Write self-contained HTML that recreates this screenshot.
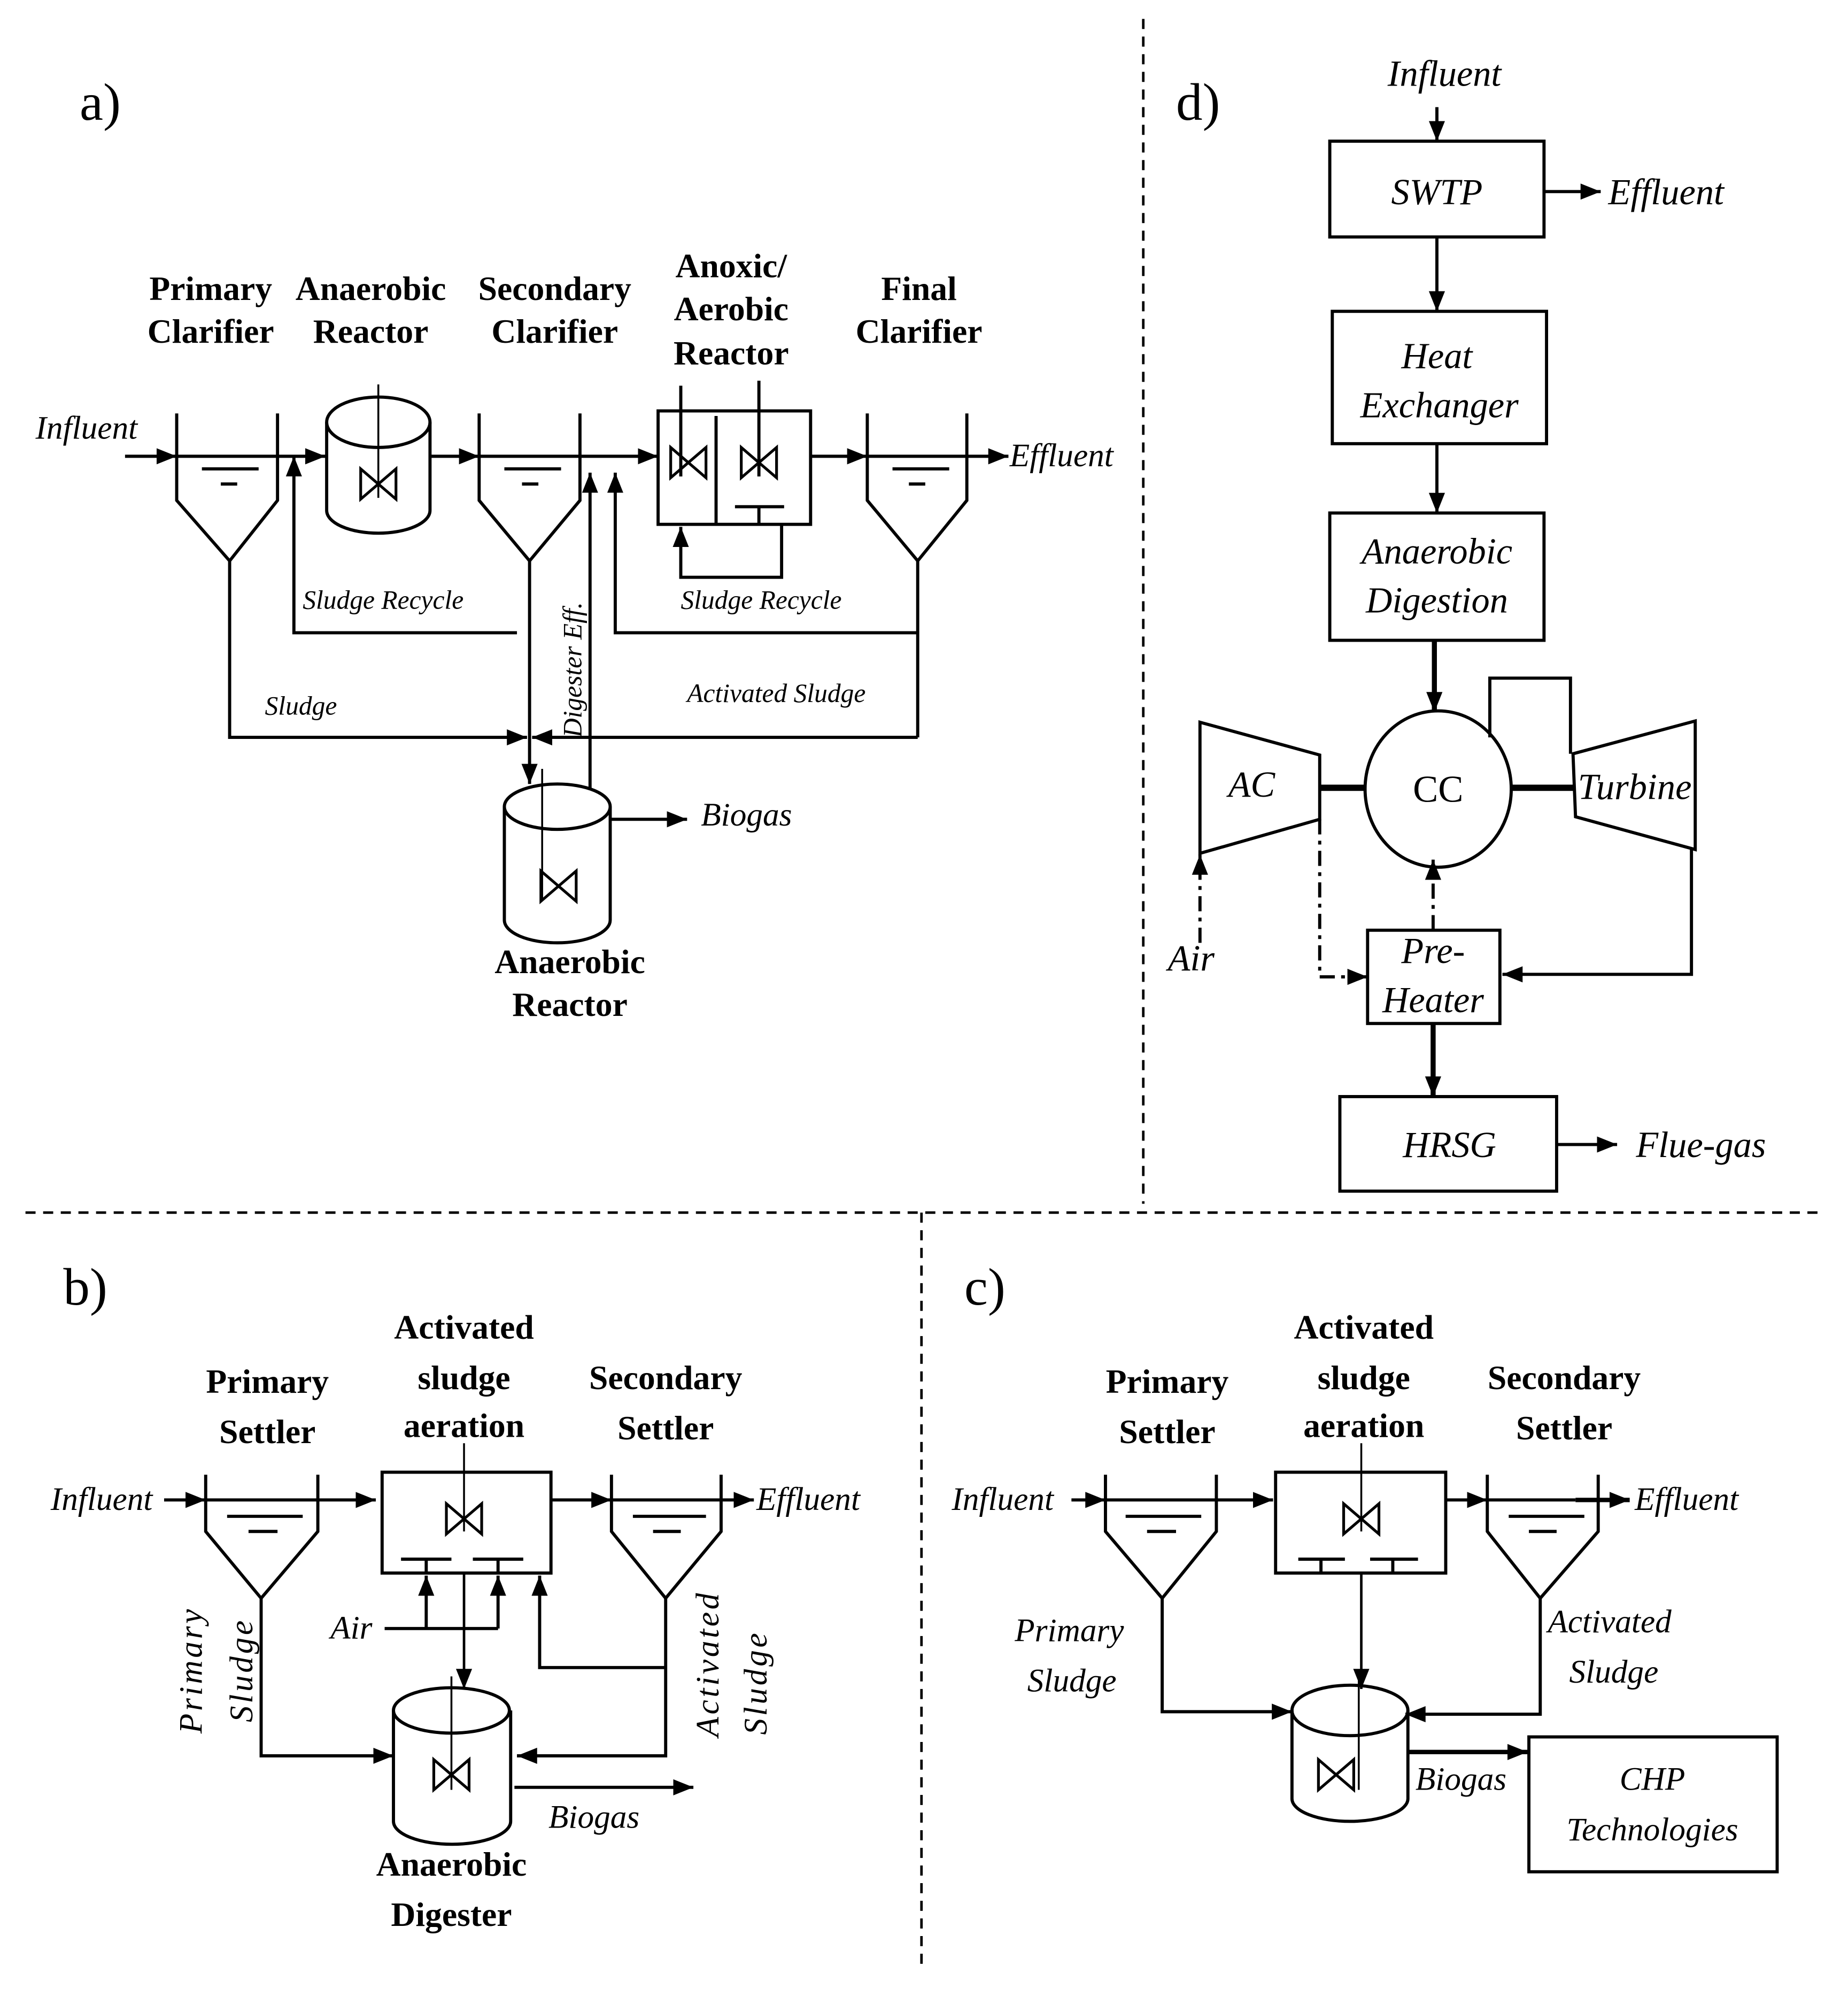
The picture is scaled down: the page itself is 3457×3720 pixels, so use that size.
<!DOCTYPE html>
<html><head><meta charset="utf-8"><style>
html,body{margin:0;padding:0;background:#fff}
svg{display:block}
text{font-family:"Liberation Serif",serif;fill:#000}
.b{font-weight:bold;font-size:27px}
.i{font-style:italic;font-size:26px}
.s{font-style:italic;font-size:21px}
</style></head><body>
<svg width="3457" height="3720" viewBox="0 0 1466 1578" xmlns="http://www.w3.org/2000/svg">
<defs>
<marker id="A" viewBox="0 0 10 10" refX="10" refY="5" markerWidth="16" markerHeight="16" markerUnits="userSpaceOnUse" orient="auto"><path d="M0,1L10,5L0,9z"/></marker>
<g id="bt"><path d="M-14,-12L14,12L14,-12L-14,12Z" fill="none" stroke="#000" stroke-width="2.2"/></g>
</defs>
<rect width="1466" height="1578" fill="#fff"/>
<g stroke="#000" stroke-width="2" stroke-dasharray="8,6" fill="none">
<line x1="907" y1="15" x2="907" y2="955"/>
<line x1="20" y1="962" x2="1445" y2="962"/>
<line x1="731" y1="962" x2="731" y2="1560"/>
</g>

<!-- Panel a -->
<text x="63" y="95" font-size="42">a)</text>
<g class="b" text-anchor="middle">
<text x="167" y="238">Primary</text><text x="167" y="272">Clarifier</text>
<text x="294" y="238">Anaerobic</text><text x="294" y="272">Reactor</text>
<text x="440" y="238">Secondary</text><text x="440" y="272">Clarifier</text>
<text x="580" y="220">Anoxic/</text><text x="580" y="254">Aerobic</text><text x="580" y="289">Reactor</text>
<text x="729" y="238">Final</text><text x="729" y="272">Clarifier</text>
<text x="452" y="772">Anaerobic</text><text x="452" y="806">Reactor</text>
</g>
<g fill="none" stroke="#000" stroke-width="2.5">
<path d="M140,328V397L182,445L220,397V328"/><path d="M160,372H205M175,384H188"/>
<path d="M380,328V397L420,445L460,397V328"/><path d="M400,372H445M414,384H427"/>
<path d="M688,328V397L728,445L767,397V328"/><path d="M708,372H753M721,384H734"/>
<path d="M259,335V405A41,18 0 0 0 341,405V335"/><ellipse cx="300" cy="335" rx="41" ry="20"/>
<line x1="300" y1="305" x2="300" y2="395" stroke-width="1.5"/>
<rect x="522" y="326" width="121" height="90"/><line x1="568" y1="330" x2="568" y2="416"/>
<line x1="540" y1="306" x2="540" y2="378"/><line x1="602" y1="302" x2="602" y2="378"/>
<path d="M583,402H622M602,402V416"/>
<path d="M620,416V458H540V418" marker-end="url(#A)"/>
<path d="M99,362H140" marker-end="url(#A)"/>
<path d="M140,362H258" marker-end="url(#A)"/>
<path d="M341,362H380" marker-end="url(#A)"/>
<path d="M380,362H522" marker-end="url(#A)"/>
<path d="M643,362H688" marker-end="url(#A)"/>
<path d="M688,362H800" marker-end="url(#A)"/>
<path d="M410,502H233V362" marker-end="url(#A)"/>
<path d="M420,445V622" marker-end="url(#A)"/>
<path d="M468,625V375" marker-end="url(#A)"/>
<path d="M728,445V585"/>
<path d="M728,502H488V375" marker-end="url(#A)"/>
<path d="M728,585H422" marker-end="url(#A)"/>
<path d="M182,445V585H418" marker-end="url(#A)"/>
<path d="M400,640V730A42,18 0 0 0 484,730V640"/><ellipse cx="442" cy="640" rx="42" ry="18"/>
<line x1="430" y1="610" x2="430" y2="715" stroke-width="1.5"/>
<path d="M484,650H545" marker-end="url(#A)"/>
</g>
<use href="#bt" x="300" y="384"/><use href="#bt" x="546" y="367"/><use href="#bt" x="602" y="367"/><use href="#bt" x="443" y="703"/>
<text class="i" x="28" y="348">Influent</text>
<text class="i" x="801" y="370">Effluent</text>
<text class="i" x="556" y="655">Biogas</text>
<text class="s" x="240" y="483">Sludge Recycle</text>
<text class="s" x="540" y="483">Sludge Recycle</text>
<text class="s" x="210" y="567">Sludge</text>
<text class="s" x="545" y="557">Activated Sludge</text>
<text class="s" transform="translate(461,585) rotate(-90)">Digester Eff.</text>

<!-- Panel d -->
<text x="933" y="95" font-size="42">d)</text>
<g fill="none" stroke="#000" stroke-width="2.5">
<path d="M1140,85V112" marker-end="url(#A)"/>
<rect x="1055" y="112" width="170" height="76"/>
<path d="M1225,152H1270" marker-end="url(#A)"/>
<path d="M1140,188V247" marker-end="url(#A)"/>
<rect x="1057" y="247" width="170" height="105"/>
<path d="M1140,352V407" marker-end="url(#A)"/>
<rect x="1055" y="407" width="170" height="101"/>
<path d="M1138,508V565" stroke-width="4" marker-end="url(#A)"/>
<ellipse cx="1141" cy="626" rx="58" ry="62"/>
<path d="M952,573L1047,599V650L952,677Z"/>
<path d="M1248,598L1345,572V674L1250,648Z"/>
<path d="M1047,625H1083M1199,625H1248" stroke-width="5"/>
<path d="M1182,585V538H1246V598"/>
<path d="M1342,674V773H1192" marker-end="url(#A)"/>
<rect x="1085" y="738" width="105" height="74"/>
<path d="M1047,650V775H1085" stroke-dasharray="12,5,3,5" marker-end="url(#A)"/>
<path d="M1137,738V682" stroke-dasharray="12,5,3,5" marker-end="url(#A)"/>
<path d="M952,748V678" stroke-dasharray="12,5,3,5" marker-end="url(#A)"/>
<path d="M1137,812V870" stroke-width="4" marker-end="url(#A)"/>
<rect x="1063" y="870" width="172" height="75"/>
<path d="M1235,908H1283" marker-end="url(#A)"/>
</g>
<g class="i" text-anchor="middle" style="font-size:29px">
<text x="1146" y="68">Influent</text>
<text x="1140" y="162">SWTP</text>
<text x="1140" y="292">Heat</text><text x="1142" y="331">Exchanger</text>
<text x="1140" y="447">Anaerobic</text><text x="1140" y="486">Digestion</text>
<text x="993" y="632">AC</text>
<text x="1297" y="634">Turbine</text>
<text x="1137" y="764">Pre-</text><text x="1137" y="803">Heater</text>
<text x="1150" y="918">HRSG</text>
<text x="945" y="770">Air</text>
</g>
<text class="i" x="1276" y="162" style="font-size:29px">Effluent</text>
<text class="i" x="1298" y="918" style="font-size:29px">Flue-gas</text>
<text x="1141" y="636" font-size="30" text-anchor="middle">CC</text>

<!-- Panel b -->
<text x="50" y="1035" font-size="42">b)</text>
<g class="b" text-anchor="middle">
<text x="212" y="1105">Primary</text><text x="212" y="1145">Settler</text>
<text x="368" y="1062">Activated</text><text x="368" y="1102">sludge</text><text x="368" y="1140">aeration</text>
<text x="528" y="1102">Secondary</text><text x="528" y="1142">Settler</text>
<text x="358" y="1488">Anaerobic</text><text x="358" y="1528">Digester</text>
</g>
<g fill="none" stroke="#000" stroke-width="2.5">
<path d="M163,1170V1215L207,1268L252,1215V1170"/><path d="M180,1203H240M197,1215H220"/>
<path d="M485,1170V1215L528,1268L572,1215V1170"/><path d="M502,1203H560M518,1215H540"/>
<rect x="303" y="1168" width="134" height="80"/>
<line x1="368" y1="1145" x2="368" y2="1215" stroke-width="1.5"/>
<path d="M318,1237H358M338,1237V1248M375,1237H415M395,1237V1248"/>
<path d="M130,1190H163" marker-end="url(#A)"/>
<path d="M163,1190H298" marker-end="url(#A)"/>
<path d="M437,1190H485" marker-end="url(#A)"/>
<path d="M485,1190H598" marker-end="url(#A)"/>
<path d="M305,1292H395"/>
<path d="M338,1292V1250" marker-end="url(#A)"/>
<path d="M395,1292V1250" marker-end="url(#A)"/>
<path d="M368,1248V1340" stroke-width="2" marker-end="url(#A)"/>
<path d="M528,1268V1393H410" marker-end="url(#A)"/>
<path d="M528,1323H428V1250" marker-end="url(#A)"/>
<path d="M207,1268V1393H312" marker-end="url(#A)"/>
<path d="M312,1357V1445A46,18 0 0 0 405,1445V1357"/><ellipse cx="358" cy="1357" rx="46" ry="18"/>
<line x1="358" y1="1330" x2="358" y2="1420" stroke-width="1.5"/>
<path d="M408,1418H550" marker-end="url(#A)"/>
</g>
<use href="#bt" x="368" y="1205"/><use href="#bt" x="358" y="1408"/>
<text class="i" x="40" y="1198">Influent</text>
<text class="i" x="600" y="1198">Effluent</text>
<text class="i" x="262" y="1300">Air</text>
<text class="i" x="435" y="1450">Biogas</text>
<text class="i" text-anchor="middle" transform="translate(160,1325) rotate(-90)" letter-spacing="2">Primary</text>
<text class="i" text-anchor="middle" transform="translate(200,1325) rotate(-90)" letter-spacing="2">Sludge</text>
<text class="i" text-anchor="middle" transform="translate(570,1320) rotate(-90)" letter-spacing="2">Activated</text>
<text class="i" text-anchor="middle" transform="translate(608,1335) rotate(-90)" letter-spacing="2">Sludge</text>

<!-- Panel c -->
<text x="765" y="1035" font-size="42">c)</text>
<g class="b" text-anchor="middle">
<text x="926" y="1105">Primary</text><text x="926" y="1145">Settler</text>
<text x="1082" y="1062">Activated</text><text x="1082" y="1102">sludge</text><text x="1082" y="1140">aeration</text>
<text x="1241" y="1102">Secondary</text><text x="1241" y="1142">Settler</text>
</g>
<g fill="none" stroke="#000" stroke-width="2.5">
<path d="M877,1170V1215L922,1268L965,1215V1170"/><path d="M893,1203H953M910,1215H933"/>
<path d="M1180,1170V1215L1222,1268L1268,1215V1170"/><path d="M1197,1203H1257M1213,1215H1235"/>
<rect x="1012" y="1168" width="135" height="80"/>
<line x1="1080" y1="1145" x2="1080" y2="1215" stroke-width="1.5"/>
<path d="M1030,1237H1067M1048,1237V1248M1087,1237H1125M1105,1237V1248"/>
<path d="M850,1190H877" marker-end="url(#A)"/>
<path d="M877,1190H1010" marker-end="url(#A)"/>
<path d="M1147,1190H1180" marker-end="url(#A)"/>
<path d="M1180,1190H1250"/>
<path d="M1250,1190H1293" stroke-width="3.5" marker-end="url(#A)"/>
<path d="M1080,1248V1340" stroke-width="2" marker-end="url(#A)"/>
<path d="M922,1268V1358H1025" marker-end="url(#A)"/>
<path d="M1222,1268V1360H1115" marker-end="url(#A)"/>
<path d="M1025,1357V1427A46,18 0 0 0 1117,1427V1357"/><ellipse cx="1071" cy="1357" rx="46" ry="20"/>
<line x1="1078" y1="1330" x2="1078" y2="1420" stroke-width="1.5"/>
<path d="M1117,1390H1212" stroke-width="3.5" marker-end="url(#A)"/>
<rect x="1213" y="1378" width="197" height="107"/>
</g>
<use href="#bt" x="1060" y="1408"/><use href="#bt" x="1080" y="1205"/>
<text class="i" x="755" y="1198">Influent</text>
<text class="i" x="1297" y="1198">Effluent</text>
<text class="i" x="1123" y="1420">Biogas</text>
<text class="i" x="805" y="1302">Primary</text>
<text class="i" x="815" y="1342">Sludge</text>
<text class="i" x="1228" y="1295">Activated</text>
<text class="i" x="1245" y="1335">Sludge</text>
<text class="i" x="1311" y="1420" text-anchor="middle">CHP</text>
<text class="i" x="1311" y="1460" text-anchor="middle">Technologies</text>
</svg>
</body></html>
